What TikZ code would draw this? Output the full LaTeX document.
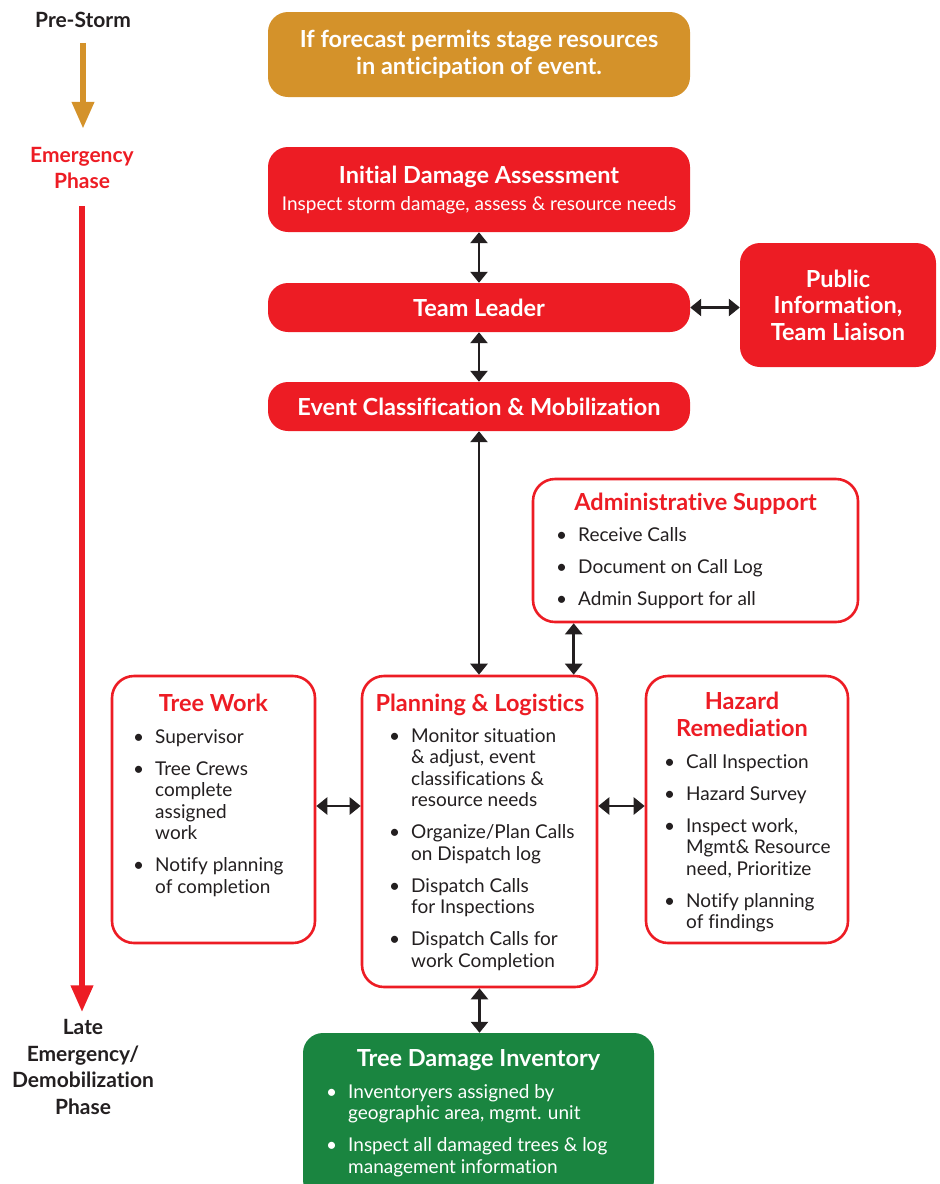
\documentclass[tikz,border=0pt]{standalone}
\usepackage{fontspec}
\setmainfont{Lato}[Ligatures=NoCommon]
\usepackage{xcolor}
\usetikzlibrary{arrows.meta}
\definecolor{stormred}{HTML}{ED1C24}
\definecolor{stormorange}{HTML}{D4922A}
\definecolor{stormgreen}{HTML}{1A8540}
\definecolor{stormink}{HTML}{231F20}
\tikzset{>={Triangle[width=17pt,length=11pt]}}
\newcommand{\titlefont}{\fontsize{23.5}{27}\selectfont\bfseries}
\newcommand{\itemfont}{\fontsize{19}{21.5}\selectfont}
\newcommand{\phasefont}{\fontsize{21}{26.5}\selectfont\bfseries}
\newcommand{\nextitem}{\\[10.5pt]}
\newcommand{\bulletlist}[1]{\begin{tabular}[t]{@{}l@{\hspace{11pt}}l@{}}#1\end{tabular}}

\begin{document}
\begin{tikzpicture}[x=1pt, y=-1pt]
  % pixel grid of the chart, y runs downwards
  \tikzset{>={Triangle[width=17pt,length=11pt]}}
  \tikzstyle{fillbox}=[rounded corners=20pt, text=white, align=center, inner sep=0pt, font=\titlefont]
  \tikzstyle{linebox}=[draw=stormred, line width=2.6pt, fill=white, rounded corners=22pt]
  \tikzstyle{boxtitle}=[text=stormred, font=\titlefont, align=center, anchor=base, inner sep=0pt]
  \tikzstyle{boxlist}=[text=stormink, font=\itemfont, anchor=base west, inner sep=0pt]
  \tikzstyle{phase}=[font=\phasefont, align=center, inner sep=0pt]
  \tikzstyle{every edge}=[draw, stormink, <->, line width=2.6pt]
  \useasboundingbox (0,0) rectangle (940,1184);

  % phases
  \node[phase, text=stormink] (pre) at (83,20) {Pre-Storm};
  \node[phase, text=stormred] (emg) at (82,168) {Emergency\\Phase};
  \node[phase, text=stormink] (late) at (83,1067) {Late\\Emergency/\\Demobilization\\Phase};
  \draw[line width=6.5pt, stormorange, -{Triangle[width=21pt,length=27pt]}, shorten <=15pt, shorten >=18pt]
    (pre.south) -- (pre.south |- emg.north);
  \draw[line width=6.5pt, stormred, -{Triangle[width=21pt,length=27pt]}, shorten <=17pt, shorten >=7pt]
    (emg.south) -- (emg.south |- late.north);

  % filled boxes
  \node[fillbox, fill=stormorange, minimum width=422pt, minimum height=85pt] (prep) at (479,54.5)
    {If forecast permits stage resources\\in anticipation of event.};
  \node[fillbox, fill=stormred, minimum width=422pt, minimum height=85pt] (ida) at (479,189.5)
    {Initial Damage Assessment\\{\fontsize{19}{27}\selectfont\mdseries Inspect storm damage, assess \& resource needs}};
  \node[fillbox, fill=stormred, minimum width=422pt, minimum height=49pt] (tl) at (479,307.5) {Team Leader};
  \node[fillbox, fill=stormred, minimum width=196pt, minimum height=124pt, font=\fontsize{23.5}{26.5}\selectfont\bfseries]
    (pi) at (838,305) {Public\\Information,\\Team Liaison};
  \node[fillbox, fill=stormred, minimum width=422pt, minimum height=49pt] (ec) at (479,406.5)
    {Event Classification \& Mobilization};

  % administrative support
  \node[linebox, minimum width=325pt, minimum height=143pt] (adm) at (695.5,550.5) {};
  \node[boxtitle] (adm-title) at (695.5,510) {Administrative Support};
  \node[boxlist] (adm-list) at (556,541) {\bulletlist{
    • & Receive Calls\nextitem
    • & Document on Call Log\nextitem
    • & Admin Support for all}};

  % planning and logistics
  \node[linebox, minimum width=235pt, minimum height=311pt] (pl) at (479.5,831.5) {};
  \node[boxtitle] (pl-title) at (480,711) {Planning \& Logistics};
  \node[boxlist] (pl-list) at (389,742) {\bulletlist{
    • & Monitor situation\\ & \& adjust, event\\ & classifications \&\\ & resource needs\nextitem
    • & Organize/Plan Calls\\ & on Dispatch log\nextitem
    • & Dispatch Calls\\ & for Inspections\nextitem
    • & Dispatch Calls for\\ & work Completion}};

  % tree work
  \node[linebox, minimum width=203pt, minimum height=267pt] (tw) at (213.5,809.5) {};
  \node[boxtitle] (tw-title) at (213.5,711) {Tree Work};
  \node[boxlist] (tw-list) at (133,743) {\bulletlist{
    • & Supervisor\nextitem
    • & Tree Crews\\ & complete\\ & assigned\\ & work\nextitem
    • & Notify planning\\ & of completion}};

  % hazard remediation
  \node[linebox, minimum width=202pt, minimum height=267pt] (hr) at (747,809.5) {};
  \node[boxtitle] (hr-title) at (742,736) {Hazard\\Remediation};
  \node[boxlist] (hr-list) at (664,768) {\bulletlist{
    • & Call Inspection\nextitem
    • & Hazard Survey\nextitem
    • & Inspect work,\\ & Mgmt\& Resource\\ & need, Prioritize\nextitem
    • & Notify planning\\ & of findings}};

  % tree damage inventory
  \node[fillbox, fill=stormgreen, minimum width=351pt, minimum height=167pt] (tdi) at (478.5,1116.5) {};
  \node[boxtitle, text=white] (tdi-title) at (478.5,1066) {Tree Damage Inventory};
  \node[boxlist, text=white] (tdi-list) at (326,1098) {\bulletlist{
    • & Inventoryers assigned by\\ & geographic area, mgmt. unit\nextitem
    • & Inspect all damaged trees \& log\\ & management information}};

  % links
  \draw (ida) edge (tl);
  \draw (tl.east) edge (tl.east -| pi.west);
  \draw (tl) edge (ec);
  \draw (ec.south) edge (ec.south |- pl.north);
  \draw ([xshift=42pt]adm.south west) edge ([xshift=42pt]adm.south west |- pl.north);
  \draw ([yshift=3.5pt]tw.east) edge ([yshift=3.5pt]tw.east -| pl.west);
  \draw ([yshift=3.5pt]hr.west -| pl.east) edge ([yshift=3.5pt]hr.west);
  \draw (pl.south) edge (pl.south |- tdi.north);
\end{tikzpicture}
\end{document}
